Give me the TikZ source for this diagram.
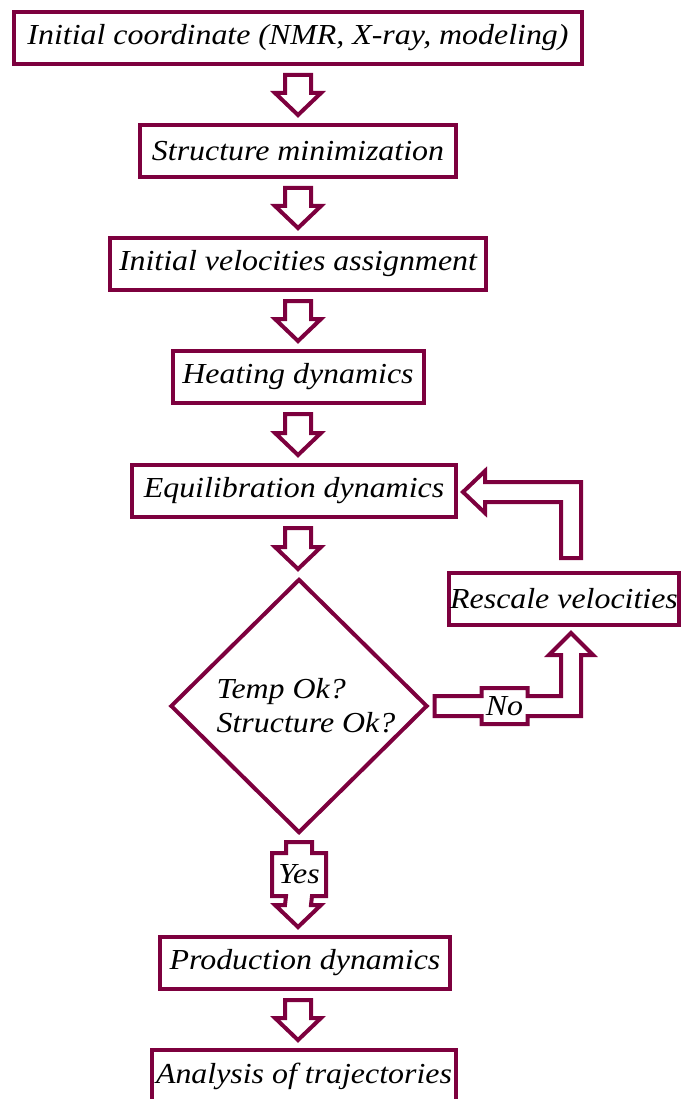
\documentclass[tikz,border=0pt]{standalone}
\usepackage{fontspec}
\setmainfont{Liberation Serif}[FakeStretch=1.1]
\usepackage{xcolor}
\usetikzlibrary{shapes,arrows,positioning,calc}

\definecolor{mdline}{RGB}{125,0,62}

% hollow block arrow pointing down between two nodes
\newcommand{\blockdown}[2]{%
  \path ($(#1.south -| axis)+(0,9)$) coordinate (bt)
        ($(#2.north -| axis)+(0,-8)$) coordinate (bh);
  \draw [hollow] ($(bt)+(-13,0)$) -- ($(bt)+(13,0)$) -- ($(bh)+(13,-22)$) -- ($(bh)+(23,-22)$)
    -- (bh) -- ($(bh)+(-23,-22)$) -- ($(bh)+(-13,-22)$) -- cycle;}

\begin{document}
\begin{tikzpicture}[
    x=1pt, y=-1pt,
    node distance=113pt,
    stagebox/.style={rectangle, draw=mdline, line width=4pt, minimum height=52pt, inner sep=1pt,
        font=\fontsize{29}{34}\selectfont\itshape, text centered},
    test/.style={diamond, draw=mdline, line width=4pt, minimum width=257pt, minimum height=254pt,
        inner sep=0pt, align=left, font=\fontsize{29}{34}\selectfont\itshape},
    hollow/.style={draw=mdline, line width=4pt, fill=white},
    lbl/.style={inner sep=0pt, font=\fontsize{29}{34}\selectfont\itshape}
]
\useasboundingbox (0,0) rectangle (681,1099);
\coordinate (axis) at (298,0);

% Main column
\node [stagebox, minimum width=568pt] (init) at (298,38) {Initial coordinate (NMR, X-ray, modeling)};
\node [stagebox, minimum width=316pt, below of=init] (minim) {Structure minimization};
\node [stagebox, minimum width=376pt, below of=minim] (veloc) {Initial velocities assignment};
\node [stagebox, minimum width=251pt, below of=veloc] (heat) {Heating dynamics};
\node [stagebox, minimum width=324pt, below of=heat, xshift=-4pt, yshift=-1pt] (equi) {Equilibration dynamics};

% Decision
\node [test, below of=equi, xshift=5pt, yshift=-102pt] (check) {\hspace*{14pt}Temp Ok?\\\hspace*{14pt}Structure Ok?};

% Side branch
\node [stagebox, minimum width=230pt, right of=check, xshift=152pt, yshift=107pt] (rescale) {Rescale velocities};

% Final stages
\node [stagebox, minimum width=290pt, below of=check, xshift=6pt, yshift=-144pt] (prod) {Production dynamics};
\node [stagebox, minimum width=304pt, below of=prod, xshift=-1pt] (anal) {Analysis of trajectories};

% Connections
\blockdown{init}{minim}
\blockdown{minim}{veloc}
\blockdown{veloc}{heat}
\blockdown{heat}{equi}
\blockdown{equi}{check}
\blockdown{prod}{anal}

% Yes branch
\path ($(check.south)+(0,7)$) coordinate (ya) ($(prod.north -| axis)+(0,-8)$) coordinate (yb);
\draw [hollow] ($(ya)+(-13,0)$) -- ($(ya)+(13,0)$) -- ($(ya)+(13,11)$) -- ($(ya)+(27,11)$)
  -- ($(ya)+(27,54)$) -- ($(ya)+(13,54)$) -- ($(yb)+(13,-22)$) -- ($(yb)+(23,-22)$) -- (yb)
  -- ($(yb)+(-23,-22)$) -- ($(yb)+(-13,-22)$) -- ($(ya)+(-13,54)$) -- ($(ya)+(-27,54)$)
  -- ($(ya)+(-27,11)$) -- ($(ya)+(-13,11)$) -- cycle;
\node [lbl] (yes) at ($(ya)+(0,32)$) {Yes};

% No branch
\path ($(check.east)+(5,0)$) coordinate (na) ($(rescale.south)+(7,6)$) coordinate (nb);
\coordinate (nc) at (nb |- na);
\draw [hollow] ($(na)+(0,-10)$) -- ($(na)+(47,-10)$) -- ($(na)+(47,-18)$) -- ($(na)+(93,-18)$)
  -- ($(na)+(93,-10)$) -- ($(nc)+(-10,-10)$) -- ($(nb)+(-10,22)$) -- ($(nb)+(-22,22)$) -- (nb)
  -- ($(nb)+(22,22)$) -- ($(nb)+(10,22)$) -- ($(nc)+(10,10)$) -- ($(na)+(93,10)$)
  -- ($(na)+(93,18)$) -- ($(na)+(47,18)$) -- ($(na)+(47,10)$) -- ($(na)+(0,10)$) -- cycle;
\node [lbl] (no) at ($(na)+(70,0)$) {No};

% Feedback loop
\path ($(rescale.north)+(7,-13)$) coordinate (fs) ($(equi.east)+(5,1)$) coordinate (ft);
\coordinate (fc) at (fs |- ft);
\draw [hollow] ($(fs)+(-10,0)$) -- ($(fc)+(-10,10)$) -- ($(ft)+(22,10)$) -- ($(ft)+(22,21)$) -- (ft)
  -- ($(ft)+(22,-21)$) -- ($(ft)+(22,-10)$) -- ($(fc)+(10,-10)$) -- ($(fs)+(10,0)$) -- cycle;

\end{tikzpicture}
\end{document}
